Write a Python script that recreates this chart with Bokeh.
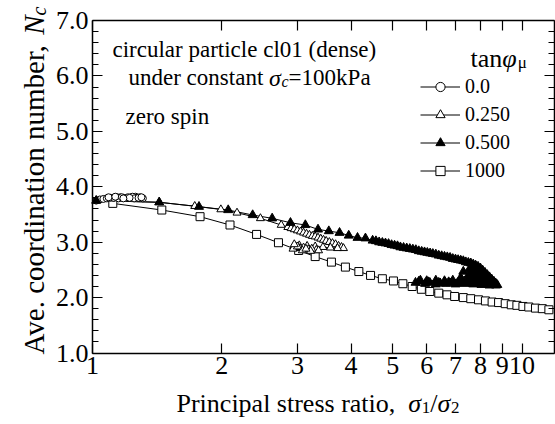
import math
from bokeh.plotting import figure
from bokeh.models import (FixedTicker, LogAxis, LinearAxis, Label, Legend, LegendItem,
                          CustomJSTickFormatter, PrintfTickFormatter, Range1d)
from bokeh.embed import file_html
from bokeh.resources import INLINE

# ---------------- data ----------------
x_ticks = [1, 2, 3, 4, 5, 6, 7, 8, 9, 10]
y_ticks = [1, 2, 3, 4, 5, 6, 7]
legend_labels = ["0.0", "0.250", "0.500", "1000"]

# tan(phi_mu) = 0.0 (open circles)
mu0_x = [1.02, 1.04, 1.06, 1.08, 1.10, 1.12, 1.14, 1.16, 1.18, 1.15, 1.12, 1.09, 1.13,
         1.17, 1.20, 1.23, 1.26, 1.29, 1.31, 1.27, 1.24, 1.21, 1.25, 1.28, 1.30, 1.22, 1.18]
mu0_y = [3.75, 3.77, 3.78, 3.79, 3.80, 3.80, 3.81, 3.81, 3.80, 3.79, 3.80, 3.81, 3.82,
         3.81, 3.80, 3.81, 3.82, 3.81, 3.79, 3.80, 3.82, 3.81, 3.79, 3.80, 3.81, 3.80, 3.79]

# tan(phi_mu) = 0.250 (open triangles)
mu025_x = [1.02, 1.43, 1.73, 1.99, 2.17, 2.46, 2.75, 2.85, 2.90, 2.95, 3.00, 3.05, 3.10,
           3.15, 3.20, 3.25, 3.30, 3.35, 3.40, 3.45, 3.50, 3.56, 3.62, 3.68, 3.74, 3.80,
           3.84, 3.72, 3.58, 3.44, 3.30, 3.16, 3.03, 2.94, 3.04, 3.18, 3.32, 3.24, 3.10,
           2.98, 2.93, 3.08, 3.22, 3.36, 3.14, 3.00, 2.95]
mu025_y = [3.75, 3.72, 3.65, 3.59, 3.53, 3.43, 3.31, 3.27, 3.25, 3.23, 3.21, 3.19, 3.17,
           3.15, 3.13, 3.11, 3.10, 3.08, 3.06, 3.04, 3.02, 3.00, 2.98, 2.96, 2.93, 2.91,
           2.89, 2.89, 2.90, 2.91, 2.92, 2.93, 2.94, 2.92, 2.89, 2.87, 2.86, 2.88, 2.90,
           2.91, 2.88, 2.85, 2.84, 2.85, 2.88, 2.92, 2.96]

# tan(phi_mu) = 0.500 (filled triangles)
mu05_x = [1.02, 1.43, 1.77, 2.07, 2.36, 2.62, 2.89, 3.13, 3.35, 3.55, 3.76, 3.95, 4.14,
          4.32, 4.49, 4.57, 4.65, 4.73, 4.81, 4.89, 4.97, 5.05, 5.13, 5.21, 5.30, 5.39,
          5.48, 5.57, 5.66, 5.75, 5.84, 5.93, 6.02, 6.11, 6.20, 6.30, 6.40, 6.50, 6.60,
          6.70, 6.80, 6.90, 7.00, 7.10, 7.20, 7.30, 7.40, 7.50, 7.60, 7.70, 7.80, 7.90,
          8.00, 8.10, 8.20, 8.30, 8.40, 8.50, 8.60, 8.68, 8.76,
          8.45, 8.15, 7.85, 7.55, 7.30, 7.60, 7.95, 8.30, 8.60, 8.30, 8.00, 7.75, 7.90,
          8.10, 7.70, 7.95, 8.25, 7.55, 7.20, 7.65, 7.90, 8.20, 8.50, 8.15, 7.80, 7.45,
          7.10, 6.75, 6.40, 6.05, 5.75, 5.65, 5.95, 6.30, 6.65, 7.00, 7.35, 7.70, 8.05,
          8.40, 8.70, 8.45, 8.10, 7.80, 7.50, 7.20, 6.90, 6.60, 6.30, 6.00, 5.80, 6.10,
          6.45, 6.80, 7.15, 7.50, 7.85, 8.20, 8.55]
mu05_y = [3.75, 3.72, 3.64, 3.58, 3.49, 3.43, 3.35, 3.31, 3.23, 3.20, 3.17, 3.12, 3.08,
          3.07, 3.03, 3.02, 3.00, 2.99, 2.98, 2.97, 2.95, 2.94, 2.93, 2.91, 2.90, 2.89,
          2.88, 2.87, 2.86, 2.84, 2.83, 2.82, 2.81, 2.80, 2.79, 2.78, 2.76, 2.75, 2.74,
          2.73, 2.72, 2.70, 2.69, 2.68, 2.67, 2.66, 2.64, 2.63, 2.62, 2.60, 2.58, 2.56,
          2.53, 2.49, 2.45, 2.41, 2.37, 2.33, 2.29, 2.26, 2.23,
          2.30, 2.38, 2.46, 2.52, 2.47, 2.42, 2.36, 2.28, 2.24, 2.34, 2.42, 2.50, 2.50,
          2.42, 2.45, 2.40, 2.33, 2.33, 2.32, 2.38, 2.30, 2.26, 2.23, 2.27, 2.28, 2.28,
          2.27, 2.28, 2.27, 2.28, 2.29, 2.27, 2.25, 2.24, 2.25, 2.24, 2.25, 2.24, 2.23,
          2.22, 2.22, 2.27, 2.31, 2.36, 2.40, 2.36, 2.31, 2.30, 2.31, 2.30, 2.31, 2.27,
          2.26, 2.26, 2.26, 2.26, 2.25, 2.24, 2.23]

# tan(phi_mu) = 1000 (open squares)
mu1000_x = [1.115, 1.45, 1.78, 2.09, 2.41, 2.71, 3.02, 3.30, 3.60, 3.88, 4.17, 4.44, 4.73,
            5.02, 5.28, 5.55, 5.83, 6.10, 6.40, 6.69, 6.97, 7.30, 7.60, 7.92, 8.22, 8.52,
            8.82, 9.14, 9.44, 9.73, 10.05, 10.37, 10.75, 11.15, 11.55]
mu1000_y = [3.70, 3.58, 3.46, 3.31, 3.14, 2.99, 2.85, 2.74, 2.64, 2.55, 2.47, 2.40, 2.34,
            2.30, 2.25, 2.20, 2.15, 2.11, 2.08, 2.05, 2.02, 2.00, 1.98, 1.96, 1.94, 1.92,
            1.91, 1.89, 1.87, 1.86, 1.84, 1.83, 1.81, 1.80, 1.78]

# ---------------- layout ----------------
# The frame covers the whole canvas; the plot box is drawn with axes fixed at the box edges.
FONT = "Liberation Serif"
W, H = 555, 424
BL, BR, BT, BB = 92, 553.5, 20, 352.5     # plot-box edges in window pixels
X0, Y0, Y1 = 1.0, 1.0, 7.0
DEC = 429.5                                # pixels per decade on x
X1 = X0 * 10 ** ((BR - BL) / DEC)
YPX = (BB - BT) / (Y1 - Y0)

x_range = Range1d(X0 * 10 ** (-BL / DEC), X0 * 10 ** ((W - BL) / DEC))
y_range = Range1d(Y0 - (H - BB) / YPX, Y1 + BT / YPX)

p = figure(width=W, height=H, x_axis_type="log", output_backend="svg", toolbar_location=None,
           x_range=x_range, y_range=y_range,
           min_border_left=0, min_border_right=0, min_border_top=0, min_border_bottom=0)
p.min_border = 0
p.xgrid.visible = False
p.ygrid.visible = False
p.outline_line_color = None
p.background_fill_color = "white"
p.border_fill_color = "white"

minor_y = [round(Y0 + 0.2 * i, 1) for i in range(31) if round(Y0 + 0.2 * i, 1) not in y_ticks]

def style_axis(ax, labels=True):
    ax.axis_line_color = "black"
    ax.axis_line_width = 1.5
    ax.major_tick_line_color = "black"
    ax.major_tick_line_width = 1.2
    ax.minor_tick_line_color = "black"
    ax.minor_tick_line_width = 1.2
    ax.major_tick_in = 10
    ax.major_tick_out = 0
    ax.minor_tick_in = 6
    ax.minor_tick_out = 0
    ax.major_label_text_font = FONT
    ax.major_label_text_color = "black"
    ax.major_label_text_font_size = "26px"
    if labels:
        ax.major_label_standoff = 4
    else:
        ax.formatter = CustomJSTickFormatter(code="return '';")
        ax.major_label_standoff = 0

xa = p.xaxis[0]
xa.ticker = FixedTicker(ticks=x_ticks, minor_ticks=[])
xa.formatter = CustomJSTickFormatter(code="return String(Math.round(tick));")
xa.fixed_location = Y0
xa.bounds = (X0, X1)
style_axis(xa)

ya = p.yaxis[0]
ya.ticker = FixedTicker(ticks=y_ticks, minor_ticks=minor_y)
ya.formatter = PrintfTickFormatter(format="%.1f")
ya.fixed_location = X0
ya.bounds = (Y0, Y1)
style_axis(ya)

top = LogAxis(ticker=FixedTicker(ticks=x_ticks, minor_ticks=[]), fixed_location=Y1,
              bounds=(X0, X1))
style_axis(top, labels=False)
p.add_layout(top, "above")
right = LinearAxis(ticker=FixedTicker(ticks=y_ticks, minor_ticks=minor_y), fixed_location=X1,
                   bounds=(Y0, Y1))
style_axis(right, labels=False)
p.add_layout(right, "right")

# ---------------- series ----------------
r1000_l = p.line(mu1000_x, mu1000_y, line_color="black", line_width=1)
r0_l = p.line(mu0_x, mu0_y, line_color="black", line_width=1)
r025_l = p.line(mu025_x, mu025_y, line_color="black", line_width=1)
r05_l = p.line(mu05_x, mu05_y, line_color="black", line_width=1)

r1000_m = p.scatter(mu1000_x, mu1000_y, marker="square", size=8, fill_color="white",
                    line_color="black", line_width=1)
r0_m = p.scatter(mu0_x, mu0_y, marker="circle", size=7, fill_color="white",
                 line_color="black", line_width=1)
r025_m = p.scatter(mu025_x, mu025_y, marker="triangle", size=8, fill_color="white",
                   line_color="black", line_width=1)
r05_m = p.scatter(mu05_x, mu05_y, marker="triangle", size=9, fill_color="black",
                  line_color="black", line_width=1)

legend = Legend(items=[
    LegendItem(label=legend_labels[0], renderers=[r0_l, r0_m]),
    LegendItem(label=legend_labels[1], renderers=[r025_l, r025_m]),
    LegendItem(label=legend_labels[2], renderers=[r05_l, r05_m]),
    LegendItem(label=legend_labels[3], renderers=[r1000_l, r1000_m]),
], location=(420, H - 181.5), border_line_alpha=0, background_fill_alpha=0,
   padding=0, margin=0, spacing=5, label_height=23, glyph_height=23, glyph_width=40,
   label_standoff=5, label_text_font=FONT, label_text_font_size="20px",
   label_text_color="black")
p.add_layout(legend)

# ---------------- texts ----------------
REG = {' ': .25, 'A': .722, 'v': .5, 'e': .444, '.': .25, 'c': .444, 'o': .5, 'r': .333,
       'd': .5, 'i': .278, 'n': .5, 'a': .444, 't': .278, 'u': .5, 'm': .778, 'b': .5,
       ',': .25, 'P': .556, 'l': .278, 'p': .5, 's': .389, '(': .333, ')': .333, '=': .564,
       'k': .5, '/': .278, 'z': .444, 'y': .5, 'N': .722, 'σ': .55, 'φ': .6, 'μ': .5}
ITA = {'N': .667, 'c': .444, 'σ': .52, 'φ': .6, 'μ': .5}

def tw(text, size, italic):
    tab = ITA if italic else REG
    return sum(tab.get(ch, REG.get(ch, .5)) for ch in text) * size

def lab(px, py, text, size, italic, angle=0.0):
    # px, py: window pixels from top-left; the frame is the whole canvas
    return Label(x=px, y=H - py, x_units="screen", y_units="screen", text=text,
                 text_font=FONT, text_font_size=f"{size}px", angle=angle,
                 text_font_style="italic" if italic else "normal",
                 text_baseline="alphabetic", text_align="left", text_color="black")

def hruns(px, py, runs):
    for text, size, italic, dy in runs:
        p.add_layout(lab(px, py + dy, text, size, italic))
        px += tw(text, size, italic)

def vruns(px, py, runs):
    for text, size, italic, dx in runs:
        p.add_layout(lab(px + dx, py, text, size, italic, angle=math.pi / 2))
        py -= tw(text, size, italic)

# in-plot annotations
hruns(112, 49, [("circular particle cl01 (dense)", 23, False, 0)])
hruns(128, 77, [("under constant ", 23, False, 0), ("σ", 24, True, 0), ("c", 16, True, 4),
                ("=100kPa", 23, False, 0)])
hruns(125, 116, [("zero spin", 23, False, 0)])
# legend title
hruns(470, 58, [("tan", 26, False, 0), ("φ", 26, True, 0), ("μ", 17, False, 4)])

# axis titles
hruns(176, 403, [("Principal stress ratio,  ", 26, False, 0), ("σ", 26, True, 0),
                 ("1", 17, False, 4), ("/", 26, False, 0), ("σ", 26, True, 0),
                 ("2", 17, False, 4)])
vruns(33, 354, [("Ave. coordination number, ", 29, False, 0), ("N", 29, True, 0),
                ("c", 20, True, 5)])

open("out.html", "w").write(file_html(p, INLINE))
